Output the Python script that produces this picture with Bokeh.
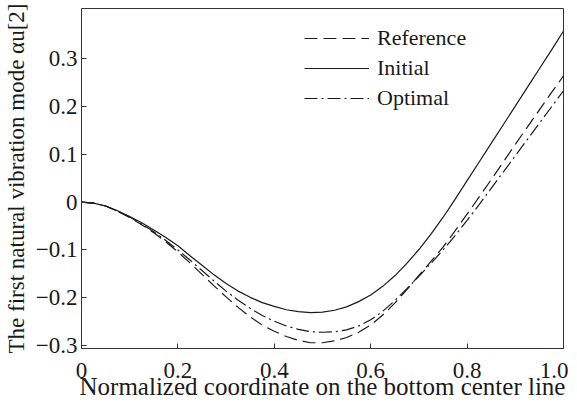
from bokeh.plotting import figure
from bokeh.models import FixedTicker, Legend, LegendItem, Range1d
from bokeh.embed import file_html
from bokeh.resources import INLINE

# ---- data ----
x = [0.0, 0.025, 0.05, 0.075, 0.1, 0.125, 0.15, 0.175, 0.2, 0.225, 0.25, 0.275, 0.3,
     0.325, 0.35, 0.375, 0.4, 0.425, 0.45, 0.475, 0.5, 0.525, 0.55, 0.575, 0.6,
     0.625, 0.65, 0.675, 0.7, 0.725, 0.75, 0.775, 0.8, 0.825, 0.85, 0.875, 0.9,
     0.925, 0.95, 0.975, 1.0]
initial = [0.0, -0.002, -0.008, -0.018, -0.030, -0.043, -0.058, -0.074, -0.091, -0.112, -0.132,
           -0.152, -0.170, -0.186, -0.199, -0.210, -0.218, -0.225, -0.229, -0.231, -0.230,
           -0.226, -0.219, -0.208, -0.194, -0.176, -0.154, -0.128, -0.099, -0.067, -0.032,
           0.006, 0.045, 0.084, 0.123, 0.162, 0.201, 0.240, 0.279, 0.318, 0.358]
reference = [0.0, -0.002, -0.008, -0.019, -0.032, -0.047, -0.064, -0.083, -0.104, -0.127, -0.151,
             -0.175, -0.198, -0.220, -0.240, -0.257, -0.270, -0.281, -0.289, -0.294, -0.294,
             -0.290, -0.283, -0.272, -0.257, -0.236, -0.211, -0.183, -0.153, -0.124, -0.094,
             -0.060, -0.025, 0.011, 0.047, 0.084, 0.121, 0.157, 0.193, 0.229, 0.264]
optimal = [0.0, -0.002, -0.008, -0.019, -0.031, -0.046, -0.062, -0.080, -0.100, -0.121, -0.143,
           -0.165, -0.186, -0.205, -0.222, -0.237, -0.249, -0.259, -0.266, -0.271, -0.272,
           -0.271, -0.267, -0.259, -0.246, -0.228, -0.206, -0.181, -0.155, -0.128, -0.100,
           -0.070, -0.038, -0.005, 0.029, 0.063, 0.097, 0.131, 0.165, 0.199, 0.233]

x_ticks = [0, 0.2, 0.4, 0.6, 0.8, 1.0]
x_tick_labels = ["0", "0.2", "0.4", "0.6", "0.8", "1.0"]
y_ticks = [-0.3, -0.2, -0.1, 0, 0.1, 0.2, 0.3]
y_tick_labels = ["\u22120.3", "\u22120.2", "\u22120.1", "0", "0.1", "0.2", "0.3"]

x_label = "Normalized coordinate on the bottom center line"
y_label = "The first natural vibration mode \u03b1u[2]"
series_names = ["Reference", "Initial", "Optimal"]

FONT = "Liberation Serif"
INK = "#1a1a1a"

p = figure(width=568, height=414, output_backend="svg", toolbar_location=None,
           x_range=Range1d(0, 1.0), y_range=Range1d(-0.306, 0.405),
           min_border_left=81, min_border_right=5, min_border_top=8, min_border_bottom=66)

p.background_fill_color = "white"
p.border_fill_color = "white"
p.outline_line_color = "#333333"
p.outline_line_width = 1
p.grid.visible = False

r_ref = p.line(x, reference, line_color=INK, line_width=1.2, line_dash="13 6")
r_init = p.line(x, initial, line_color=INK, line_width=1.2)
r_opt = p.line(x, optimal, line_color=INK, line_width=1.2, line_dash="13 4 2 4")

for ax, ticks, labels in ((p.xaxis[0], x_ticks, x_tick_labels), (p.yaxis[0], y_ticks, y_tick_labels)):
    ax.ticker = FixedTicker(ticks=ticks)
    ax.major_label_overrides = {t: l for t, l in zip(ticks, labels)}
    ax.minor_tick_line_color = None
    ax.major_tick_in = 5
    ax.major_tick_out = 0
    ax.axis_line_color = None
    ax.major_tick_line_color = "#333333"
    ax.major_label_text_font = FONT
    ax.major_label_text_font_size = "23px"
    ax.major_label_text_color = INK
    ax.axis_label_text_font = FONT
    ax.axis_label_text_font_style = "normal"
    ax.axis_label_text_color = INK

p.xaxis[0].axis_label = x_label
p.xaxis[0].axis_label_text_font_size = "25px"
p.xaxis[0].major_label_standoff = 14
p.xaxis[0].axis_label_standoff = -8

p.yaxis[0].axis_label = y_label
p.yaxis[0].axis_label_text_font_size = "23px"
p.yaxis[0].major_label_standoff = 4
p.yaxis[0].axis_label_standoff = 4

legend = Legend(items=[LegendItem(label=series_names[0], renderers=[r_ref]),
                       LegendItem(label=series_names[1], renderers=[r_init]),
                       LegendItem(label=series_names[2], renderers=[r_opt])],
                location=(223, 237), padding=0, margin=0, spacing=4,
                glyph_width=65, glyph_height=20, label_height=20, label_standoff=8,
                label_text_font=FONT, label_text_font_size="22px", label_text_color=INK,
                background_fill_alpha=0, border_line_color=None)
p.add_layout(legend)

open("out.html", "w").write(file_html(p, INLINE))
